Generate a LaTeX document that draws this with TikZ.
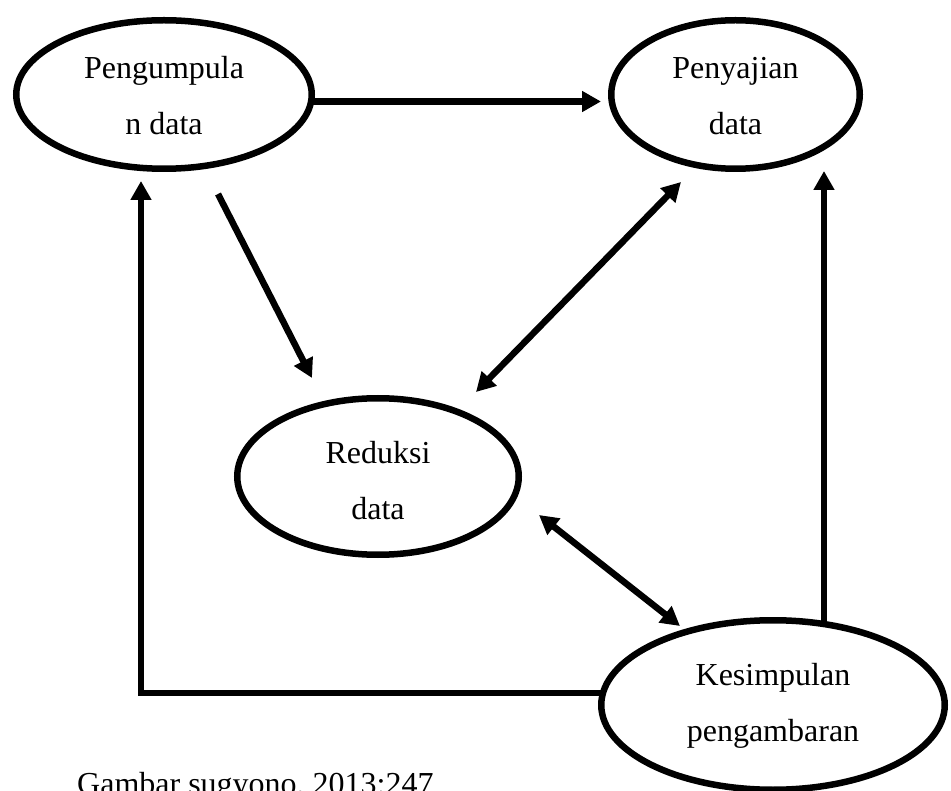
\documentclass[tikz,border=0pt]{standalone}
\usepackage{fontspec}
\setmainfont{Liberation Serif}
\usetikzlibrary{arrows.meta,shapes.geometric}
\tikzset{
  ell/.style={draw=black, line width=6.5pt, ellipse, inner sep=0pt, align=center,
    font=\fontsize{32}{56}\selectfont},
  conn/.style={draw=black, line width=6.5pt, line join=miter,
    -{Triangle[length=19pt,width=20pt]}},
  dconn/.style={draw=black, line width=6.5pt,
    {Triangle[length=19pt,width=20pt]}-{Triangle[length=19pt,width=20pt]}},
  captext/.style={font=\fontsize{32}{38}\selectfont, inner sep=0pt, anchor=base west}
}
\begin{document}
\begin{tikzpicture}[x=1pt,y=-1pt]
\useasboundingbox (0,0) rectangle (951,791);
\fill[white] (0,0) rectangle (951,791);

\node[ell, minimum width=295.5pt, minimum height=148.5pt] (peng) at (164,94.5)
  {\rule{0pt}{33pt}Pengumpula\\n data\rule[-8pt]{0pt}{8pt}};
\node[ell, minimum width=248.5pt, minimum height=148.5pt] (saji) at (735.5,94.5)
  {\rule{0pt}{33pt}Penyajian\\data\rule[-8pt]{0pt}{8pt}};
\node[ell, minimum width=281.5pt, minimum height=156.5pt] (red) at (378,476.5)
  {\rule{0pt}{37pt}Reduksi\\data\rule[-8pt]{0pt}{8pt}};
\node[ell, minimum width=343.5pt, minimum height=169.5pt] (kes) at (773,705)
  {\rule{0pt}{24pt}Kesimpulan\\pengambaran\rule[-8pt]{0pt}{8pt}};

\node[captext] (capt) at (77,794) {Gambar sugyono, 2013:247};

% free ends of connectors
\coordinate (a1s) at (311,101.5);
\coordinate (a1e) at (601,101.5);
\coordinate (a2s) at (218,194);
\coordinate (a2e) at (312,378);
\coordinate (a3s) at (681,182);
\coordinate (a3e) at (476,392);
\coordinate (a4s) at (539,515);
\coordinate (a4e) at (680,626);
\coordinate (a5s) at (824,623);
\coordinate (a5e) at (824,171);
\coordinate (a6s) at (602,693);
\coordinate (a6m) at (141,693);
\coordinate (a6e) at (141,181);

\draw[conn] (a1s) -- (a1e);
\draw[conn] (a2s) -- (a2e);
\draw[dconn] (a3s) -- (a3e);
\draw[dconn] (a4s) -- (a4e);
\draw[conn] (a5s) -- (a5e);
\draw[conn] (a6s) -- (a6m) -- (a6e);
\end{tikzpicture}
\end{document}
